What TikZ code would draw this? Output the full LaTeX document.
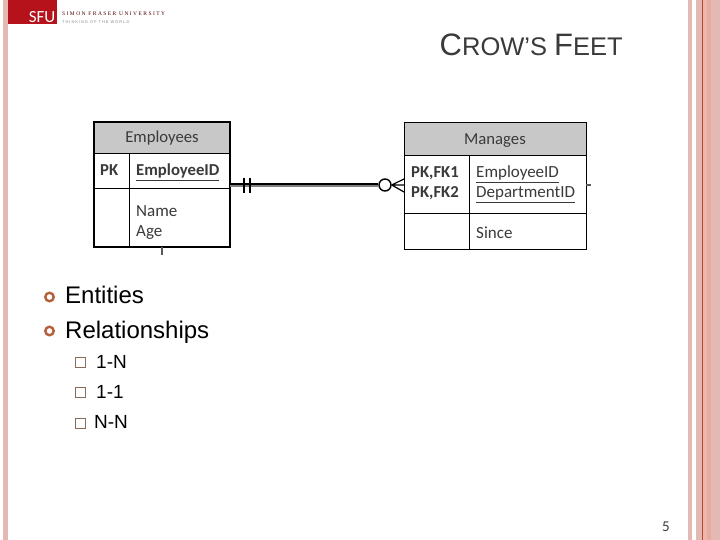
\documentclass[tikz,border=0pt]{standalone}
\usepackage{fontspec}
\setmainfont{Liberation Sans}
\newfontfamily\carl{Carlito}
\newfontfamily\logoserif[LetterSpace=26]{Liberation Serif}
\newfontfamily\logosans[LetterSpace=24]{Liberation Sans}
\definecolor{strip}{HTML}{E4B9B3}
\definecolor{stripb}{HTML}{F0B5AB}
\definecolor{stripc}{HTML}{E5ACA2}
\definecolor{stripline}{HTML}{B5482F}
\definecolor{sfured}{HTML}{B5121B}
\definecolor{hdr}{HTML}{C8C8C8}
\definecolor{ring}{HTML}{B5603A}
\definecolor{boxc}{HTML}{8A6A5A}
\definecolor{txt}{HTML}{3A3A3A}
\tikzset{
  fillstrip/.style={fill=#1,draw=none},
  tbl/.style={draw=black,line width=1pt},
  tblthick/.style={draw=black,line width=1.3pt},
  hdrtxt/.style={font=\carl\fontsize{16.7}{17}\selectfont,text=txt,inner sep=0pt},
  boldtxt/.style={font=\carl\bfseries\fontsize{16.7}{17}\selectfont,text=txt,inner sep=0pt,anchor=base west},
  plaintxt/.style={font=\carl\fontsize{17}{18}\selectfont,text=txt,inner sep=0pt,anchor=base west},
  mainitem/.style={font=\fontsize{24}{26}\selectfont,inner sep=0pt,anchor=base west},
  subitem/.style={font=\fontsize{19}{21}\selectfont,inner sep=0pt,anchor=base west},
  ringb/.style={circle,draw=ring,line width=2.4pt,minimum size=8.5pt,inner sep=0pt},
  boxb/.style={rectangle,draw=boxc,line width=.6pt,minimum size=10pt,inner sep=0pt},
  rel/.style={draw=black!50,line width=3.6pt},
  relcore/.style={draw=black,line width=1.5pt},
  stub/.style={draw=black!65,line width=1.6pt}
}
\begin{document}
\begin{tikzpicture}[x=1pt,y=-1pt]
\useasboundingbox[fill=white] (0,0) rectangle (720,540);
% side strips
\fill[fillstrip=strip] (3,0) rectangle (8,540);
\fill[fillstrip=strip] (688,0) rectangle (692,540);
\fill[fillstrip=strip] (696,0) rectangle (702,540);
\fill[fillstrip=stripb] (703,0) rectangle (707,540);
\fill[fillstrip=stripc] (707,0) rectangle (711,540);
\fill[fillstrip=strip] (711,0) rectangle (720,540);
\fill[fillstrip=stripline] (702,0) rectangle (703,540);
% logo
\fill[fillstrip=sfured] (8,0) rectangle (57,24);
\node[font=\carl\fontsize{17}{18}\selectfont,text=white,inner sep=0pt,anchor=base east] (sfu) at (55.5,23) {SFU};
\node[font=\logoserif\fontsize{5.5}{6}\selectfont,text=black!70!red,inner sep=0pt,anchor=base west] (uni) at (62,15.5) {SIMON FRASER UNIVERSITY};
\node[font=\logosans\fontsize{4}{4.5}\selectfont,text=black!45,inner sep=0pt,anchor=base west] (tag) at (62,23.5) {THINKING OF THE WORLD};
% title
\node[inner sep=0pt,anchor=base west,text=txt] (title) at (439.5,55.5) {\fontsize{31}{32}\selectfont C\fontsize{25.5}{32}\selectfont ROW’S \fontsize{31}{32}\selectfont F\fontsize{25.5}{32}\selectfont EET};
% Employees table
\fill[hdr] (94,122) rectangle (230,154);
\draw[tblthick] (94,122) rectangle (230,247);
\draw[tbl] (94,154) -- (230,154) (94,189) -- (230,189) (129,154) -- (129,247);
\node[hdrtxt] (emp) at (162,138.5) {Employees};
\node[boldtxt] (pk) at (100,176) {PK};
\node[boldtxt] (eid) at (136,176) {\underline{EmployeeID}};
\node[plaintxt] (name) at (136,216) {Name};
\node[plaintxt] (age) at (136,236.5) {Age};
\coordinate (empEast) at (230,185);
% Manages table
\fill[hdr] (404,123) rectangle (586,156);
\draw[tbl] (404,123) rectangle (586,249);
\draw[tbl] (404,156) -- (586,156) (404,214) -- (586,214) (469,156) -- (469,249);
\node[hdrtxt] (man) at (495,141) {Manages};
\node[boldtxt] (pk1) at (411,178) {PK,FK1};
\node[boldtxt] (pk2) at (411,198) {PK,FK2};
\node[plaintxt] (eid2) at (476,178) {\underline{EmployeeID}};
\node[plaintxt] (did) at (476,198) {\underline{DepartmentID}};
\node[plaintxt] (since) at (476,238) {Since};
\coordinate (manWest) at (404,185);
% connector
\node[circle,draw=black,line width=1.4pt,minimum size=12pt,inner sep=0pt] (opt) at (385,185) {};
\draw[rel] (empEast) -- (opt);
\draw[relcore] ([yshift=0.9pt]empEast) -- ([yshift=0.9pt]opt.west);
\draw[black,line width=1.2pt] (244,178) -- (244,193) (250,178) -- (250,193);
\draw[black,line width=1.2pt] (opt.east) -- (manWest) (opt.east) -- (404,179) (opt.east) -- (404,192);
% stubs
\coordinate (s1a) at (162,247);\coordinate (s1b) at (162,255);
\coordinate (s2a) at (586,185);\coordinate (s2b) at (591,185);
\draw[stub] (s1a) -- (s1b);
\draw[stub] (s2a) -- (s2b);
% bullets
\node[ringb] (b1) at (49.5,297) {};
\node[ringb] (b2) at (49.5,331) {};
\node[mainitem] (t1) at (65,303) {Entities};
\node[mainitem] (t2) at (65,338) {Relationships};
\node[boxb] (c1) at (80.5,362.5) {};
\node[boxb] (c2) at (80.5,392.5) {};
\node[boxb] (c3) at (80.5,423.5) {};
\node[subitem] (s1) at (96,368.5) {1-N};
\node[subitem] (s2) at (96,398.5) {1-1};
\node[subitem] (s3) at (94,428.5) {N-N};
% page number
\node[font=\carl\fontsize{15}{16}\selectfont,inner sep=0pt,anchor=base west,text=txt] (pg) at (662,531.5) {5};
\end{tikzpicture}
\end{document}
